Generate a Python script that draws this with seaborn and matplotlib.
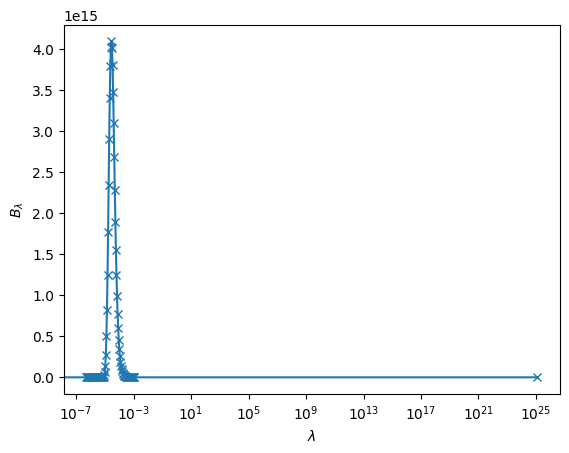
import matplotlib
matplotlib.use("Agg")
import matplotlib.pyplot as plt
import matplotlib.ticker as mticker
import seaborn as sns
import pandas as pd

# Wavelengths (cm)
wavelength = [
    0.0,
    5.13e-7, 5.61e-7, 6.14e-7, 6.72e-7, 7.35e-7, 8.04e-7, 8.80e-7, 9.62e-7,
    1.053e-6, 1.152e-6, 1.260e-6, 1.378e-6, 1.508e-6, 1.649e-6, 1.804e-6, 1.974e-6,
    2.16e-6, 2.36e-6, 2.58e-6, 2.825e-6, 3.09e-6, 3.38e-6, 3.70e-6, 4.04e-6,
    4.42e-6, 4.84e-6, 5.29e-6, 5.79e-6, 6.33e-6, 6.93e-6, 7.58e-6, 8.29e-6,
    9.07e-6, 9.92e-6, 1.085e-5, 1.187e-5, 1.299e-5, 1.421e-5, 1.554e-5, 1.700e-5,
    1.860e-5, 2.035e-5, 2.226e-5, 2.435e-5, 2.664e-5, 2.914e-5, 3.188e-5, 3.487e-5,
    3.815e-5, 4.173e-5, 4.565e-5, 4.994e-5, 5.464e-5, 5.977e-5, 6.539e-5, 7.153e-5,
    7.825e-5, 8.561e-5, 9.365e-5, 1.0245e-4, 1.1208e-4, 1.2261e-4, 1.3413e-4, 1.4673e-4,
    1.6052e-4, 1.756e-4, 1.921e-4, 2.1015e-4, 2.299e-4, 2.515e-4, 2.751e-4, 3.010e-4,
    3.293e-4, 3.602e-4, 3.941e-4, 4.311e-4, 4.716e-4, 5.159e-4, 5.644e-4, 6.174e-4,
    6.754e-4, 7.389e-4, 8.083e-4, 8.842e-4, 9.673e-4, 1.0582e-3, 1.1576e-3,
    1.2e25,
]

# Spectral radiance in units of 1e15 (offset text "1e15")
radiance_e15 = [
    0.0,
    0.0, 0.0, 0.0, 0.0, 0.0, 0.0, 0.0, 0.0,
    0.0, 0.0, 0.0, 0.0, 0.0, 0.0, 0.0, 0.0,
    0.0, 0.0, 0.0, 0.0, 0.0, 0.0, 0.0, 0.0,
    0.0, 0.0, 0.0, 0.0, 0.0002, 0.0007, 0.0027, 0.0088,
    0.0249, 0.0625, 0.138, 0.275, 0.498, 0.822, 1.250, 1.767,
    2.338, 2.905, 3.405, 3.79, 4.02, 4.09, 4.01, 3.80,
    3.47, 3.10, 2.685, 2.277, 1.896, 1.548, 1.246, 0.987,
    0.772, 0.597, 0.456, 0.346, 0.258, 0.192, 0.143, 0.106,
    0.0773, 0.0566, 0.0410, 0.0296, 0.0215, 0.0154, 0.0111, 0.0079,
    0.0057, 0.0041, 0.0029, 0.0021, 0.0015, 0.00105, 0.00075, 0.00053,
    0.00038, 0.00027, 0.00019, 0.00013, 0.00009, 0.00006, 0.00004,
    0.0,
]

# x tick positions shown on the axis
xtick_values = [1e-7, 1e-3, 1e1, 1e5, 1e9, 1e13, 1e17, 1e21, 1e25]

df = pd.DataFrame({"lam": wavelength, "B": [v * 1e15 for v in radiance_e15]})

fig, ax = plt.subplots(figsize=(6.4, 4.8), dpi=100)
sns.lineplot(data=df, x="lam", y="B", ax=ax, color="#1f77b4", marker="x",
             markersize=6, markeredgewidth=1.0, markeredgecolor="#1f77b4",
             linewidth=1.5, sort=True, estimator=None)
ax.set_xscale("log")
ax.xaxis.set_major_locator(mticker.FixedLocator(xtick_values))
ax.xaxis.set_major_formatter(mticker.LogFormatterSciNotation())
ax.xaxis.set_minor_locator(mticker.NullLocator())
ax.set_xlabel(r"$\lambda$")
ax.set_ylabel(r"$B_\lambda$")
fig.savefig("out.png", dpi=100, bbox_inches="tight")
